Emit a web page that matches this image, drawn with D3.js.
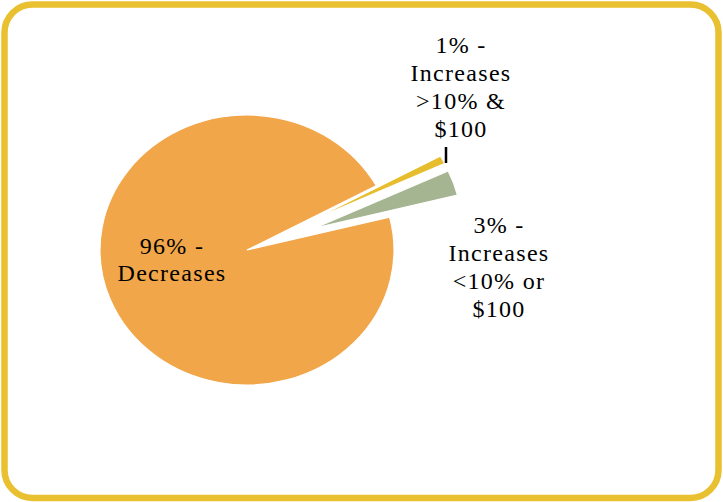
<!DOCTYPE html>
<html>

<head>
  <meta charset="utf-8">
  <script src="https://cdn.jsdelivr.net/npm/d3@7"></script>
  <style type="text/css">
    body {
      margin: 0;
      background: #fff;
    }
  </style>
</head>

<body>
  <script type="text/javascript">
    const width = 723;
    const height = 502;

    // slice data, in drawing order (clockwise)
    const categories = ['Increases >10% & $100', 'Increases <10% or $100', 'Decreases'];
    const values = [1, 3, 96];
    const colors = ['#E6BD2D', '#A5B591', '#F2A64A'];
    const labelLines = [
      ['1% -', 'Increases', '>10% &', '$100'],
      ['3% -', 'Increases', '<10% or', '$100'],
      ['96% -', 'Decreases']
    ];

    const svg = d3.select('body').append('svg')
      .attr('width', width)
      .attr('height', height);

    // frame
    svg.append('rect')
      .attr('x', 4.5).attr('y', 4.5)
      .attr('width', width - 9).attr('height', height - 8.5)
      .attr('rx', 28).attr('ry', 28)
      .attr('fill', 'none')
      .attr('stroke', '#E9C02F')
      .attr('stroke-width', 6.5);

    const cx = 247, cy = 250;
    const radius = 147;
    const explode = [72, 72, 0];

    const g = svg.append('g')
      .attr('transform', `translate(${cx}, ${cy}) scale(1, 0.918)`);

    const pie = d3.pie().sort(null)
      .startAngle(61.5 * Math.PI / 180)
      .endAngle(61.5 * Math.PI / 180 + 2 * Math.PI);

    const arc = d3.arc().innerRadius(0).outerRadius(radius);

    const pied = pie(values);

    g.selectAll('.arc').data(pied).join('path')
      .attr('class', 'arc')
      .attr('d', arc)
      .attr('transform', (d, i) => {
        const a = (d.startAngle + d.endAngle) / 2;
        return `translate(${Math.sin(a) * explode[i]}, ${-Math.cos(a) * explode[i]})`;
      })
      .style('fill', (d, i) => colors[i])
      .style('stroke', 'white')
      .style('stroke-width', 1.2);

    // leader line for the 1% slice
    svg.append('line')
      .attr('x1', 446).attr('y1', 147)
      .attr('x2', 446).attr('y2', 163)
      .attr('stroke', '#000')
      .attr('stroke-width', 2.5);

    // labels
    const labelPos = [[461, 53], [499, 233], [172, 254]];
    const lineH = 28;

    labelLines.forEach((lines, i) => {
      const t = svg.append('text')
        .style('font-family', '"Liberation Serif"')
        .style('font-size', '24px')
        .style('letter-spacing', '1.3px')
        .style('fill', '#000')
        .attr('text-anchor', 'middle')
        .attr('x', labelPos[i][0])
        .attr('y', labelPos[i][1]);
      lines.forEach((s, j) => {
        t.append('tspan')
          .attr('x', labelPos[i][0])
          .attr('dy', j === 0 ? 0 : (i === 2 ? 27 : lineH))
          .text(s);
      });
    });
  </script>
</body>

</html>
